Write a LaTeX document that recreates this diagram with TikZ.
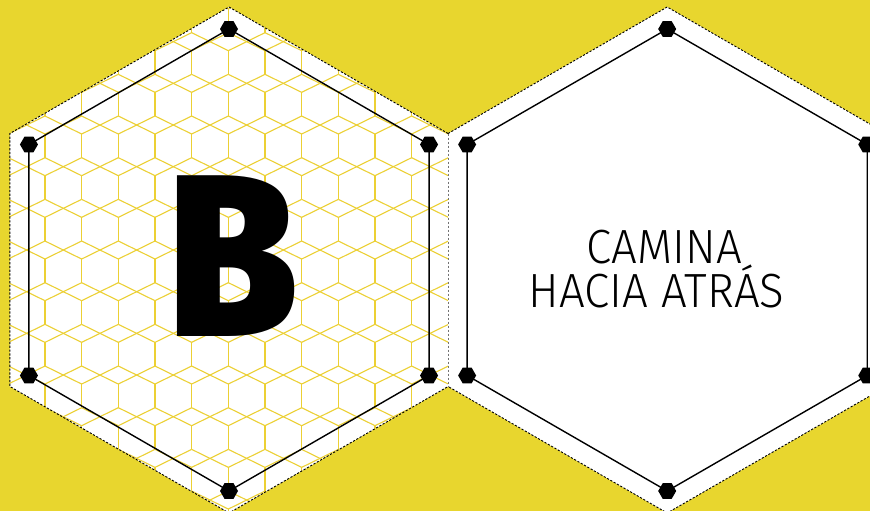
\documentclass[tikz,border=0pt]{standalone}
\usepackage{fontspec}
\usetikzlibrary{calc,shapes.geometric}
\newfontfamily\thinfont{Fira Sans Light}
\newfontfamily\heavyfont{Fira Sans Black}
\definecolor{bgyellow}{RGB}{232,214,46}
\definecolor{gridyellow}{RGB}{236,208,52}
\begin{document}
\begin{tikzpicture}[x=1pt,y=-1pt,
  outerdash/.style={black, line width=0.9pt, dash pattern=on 2.2pt off 1.6pt},
  shareddash/.style={black!55, line width=1.1pt, dash pattern=on 2pt off 2pt},
  innerline/.style={black, line width=1.4pt, line join=miter},
  gridline/.style={gridyellow, line width=1.1pt},
  hexdot/.style={regular polygon, regular polygon sides=6, fill=black, minimum size=18pt, inner sep=0pt}]
\useasboundingbox (0,0) rectangle (870,511);
\fill[bgyellow] (0,0) rectangle (870,511);
\def\Ro{253}
\def\Ri{231}
\coordinate (CL) at (229,260);
\coordinate (CR) at (667.2,260);
% vertex 1 = bottom, 2 = lower left, 3 = upper left, 4 = top, 5 = upper right, 6 = lower right
\foreach \i in {1,...,6} {
  \coordinate (LO\i) at ($(CL)+({30+60*\i}:\Ro)$);
  \coordinate (RO\i) at ($(CR)+({30+60*\i}:\Ro)$);
  \coordinate (LI\i) at ($(CL)+({30+60*\i}:\Ri)$);
  \coordinate (RI\i) at ($(CR)+({30+60*\i}:\Ri)$);
}
% white hexagon backgrounds
\fill[white] (LO1)--(LO2)--(LO3)--(LO4)--(LO5)--(LO6)--cycle;
\fill[white] (RO1)--(RO2)--(RO3)--(RO4)--(RO5)--(RO6)--cycle;
% honeycomb grid in the left hexagon
\begin{scope}
\clip (LO1)--(LO2)--(LO3)--(LO4)--(LO5)--(LO6)--cycle;
\foreach \j in {-1,...,12} {
  \pgfmathsetmacro\yc{41.67+41.67*\j}
  \foreach \k in {-7,...,6} {
    \pgfmathsetmacro\xa{228.33+36.67*\k}
    \pgfmathsetmacro\xb{\xa+36.67}
    \draw[gridline] (\xa,\yc-9) -- (\xb,\yc+9);
    \draw[gridline] (\xb,\yc-9) -- (\xa,\yc+9);
    \draw[gridline] (\xa,\yc+9) -- (\xa,\yc+32.67);
  }
}
\end{scope}
% dashed outer borders
\draw[outerdash] (LO5)--(LO4)--(LO3)--(LO2)--(LO1)--(LO6);
\draw[outerdash] (RO3)--(RO4)--(RO5)--(RO6)--(RO1)--(RO2);
\draw[shareddash] (LO5)--(LO6);
% inner hexagons
\draw[innerline] (LI1)--(LI2)--(LI3)--(LI4)--(LI5)--(LI6)--cycle;
\draw[innerline] (RI1)--(RI2)--(RI3)--(RI4)--(RI5)--(RI6)--cycle;
\foreach \i in {1,...,6} {
  \node[hexdot] (dl\i) at (LI\i) {};
  \node[hexdot] (dr\i) at (RI\i) {};
}
% texts
\node[anchor=base, inner sep=0pt, xscale=0.9, font=\heavyfont\fontsize{231}{231}\selectfont] (bigB) at (233.3,336.7) {B};
\node[anchor=base, inner sep=0pt, xscale=0.95, font=\thinfont\fontsize{48}{48}\selectfont] (line1) at (664.2,263.3) {CAMINA};
\node[anchor=base, inner sep=0pt, xscale=0.95, font=\thinfont\fontsize{48}{48}\selectfont] (line2) at (656.7,307.7) {HACIA ATRÁS};
\end{tikzpicture}
\end{document}
